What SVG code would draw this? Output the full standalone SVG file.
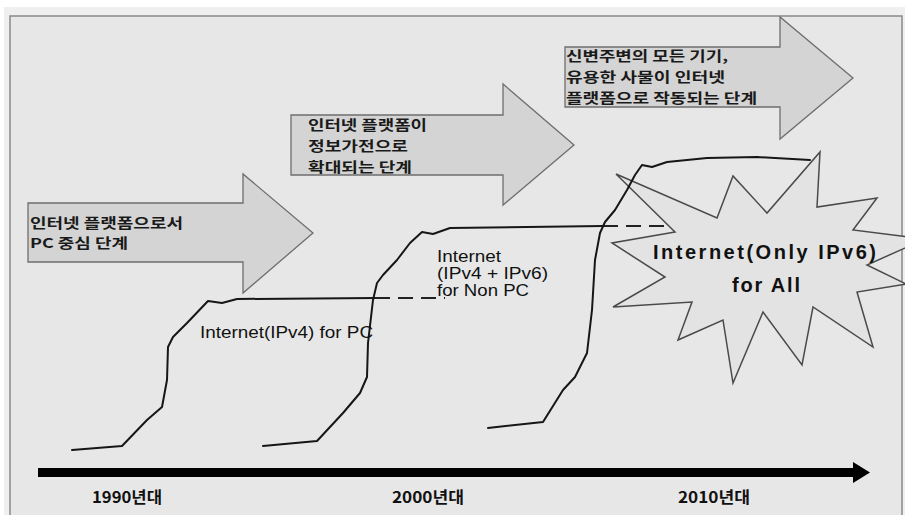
<svg xmlns="http://www.w3.org/2000/svg" width="905" height="515" viewBox="0 0 905 515">
<style>
.kr{font-family:"Noto Sans CJK KR","Noto Sans",sans-serif;font-size:13.5px;font-weight:bold;fill:#1a1a1a;}
.yr{font-family:"Noto Sans CJK KR","Noto Sans",sans-serif;font-size:16px;font-weight:bold;fill:#111;}
.en{font-family:"Liberation Sans",Arial,sans-serif;font-size:16px;fill:#111;}
.burst{font-family:"Liberation Sans",Arial,sans-serif;font-size:20px;font-weight:bold;fill:#111;}
.arrow{fill:#d4d4d4;stroke:#6e6e6e;stroke-width:1.3;}
.curve{fill:none;stroke:#161616;stroke-width:2;stroke-linejoin:round;stroke-linecap:round;}
.dash{fill:none;stroke:#222;stroke-width:2;stroke-dasharray:15 8;}
</style>
<defs>
<clipPath id="c2"><rect x="291" y="115" width="215" height="60"/></clipPath>
<clipPath id="c3"><rect x="565" y="47" width="218" height="60"/></clipPath>
</defs>
<rect x="0" y="0" width="905" height="515" fill="#ffffff"/>
<rect x="4" y="7" width="901" height="508" fill="#efefef"/>
<rect x="10" y="16" width="892" height="510" fill="#e7e7e7" stroke="#8a8a8a" stroke-width="1.5"/>

<g id="stage1">
<polygon class="arrow" points="28,203 243,203 243,174 313,233 243,293 243,262 28,262"/>
<text class="kr" x="30" y="228" textLength="153" lengthAdjust="spacingAndGlyphs">인터넷 플랫폼으로서</text>
<text class="kr" x="30" y="248" textLength="98" lengthAdjust="spacingAndGlyphs">PC 중심 단계</text>
</g>

<g id="stage2">
<polygon class="arrow" points="291,115 503,115 503,84 574,145 503,205 503,175 291,175"/>
<g clip-path="url(#c2)">
<text class="kr" x="308" y="130" textLength="119" lengthAdjust="spacingAndGlyphs">인터넷 플랫폼이</text>
</g>
<text class="kr" x="308" y="151" textLength="100" lengthAdjust="spacingAndGlyphs">정보가전으로</text>
<text class="kr" x="308" y="172" textLength="104" lengthAdjust="spacingAndGlyphs">확대되는 단계</text>
</g>

<g id="stage3">
<polygon class="arrow" points="565,47 780,47 780,17 853,78 780,139 780,107 565,107"/>
<g clip-path="url(#c3)">
<text class="kr" x="566" y="61" textLength="162" lengthAdjust="spacingAndGlyphs">신변주변의 모든 기기,</text>
</g>
<text class="kr" x="566" y="82" textLength="159" lengthAdjust="spacingAndGlyphs">유용한 사물이 인터넷</text>
<text class="kr" x="566" y="103" textLength="191" lengthAdjust="spacingAndGlyphs">플랫폼으로 작동되는 단계</text>
</g>

<g id="ipv6-burst">
<polygon fill="#e3e3e3" stroke="#4a4a4a" stroke-width="1.5" stroke-linejoin="miter" points="616,174 717,218 733,176 767,213 820,152 817,207 877,198 853,230 925,239 867,265 906,284 857,292 873,347 813,307 802,365 763,312 733,383 723,320 678,340 692,302 613,307 665,277 612,243 675,232"/>
<text class="burst" x="653" y="259" textLength="223" lengthAdjust="spacing">Internet(Only IPv6)</text>
<text class="burst" x="732" y="292" textLength="68" lengthAdjust="spacing">for All</text>
</g>

<g id="connectors">
<path class="curve" d="M72,450 L122,446 L147,420 L162,407 L167,380 L168,347 L173,337 L187,323 L208,301 L222,303 L237,299 L375,298"/>
<path class="dash" d="M375,298 L445,298"/>
<path class="curve" d="M263,446 L317,441 L343,413 L360,393 L367,377 L368,343 L373,300 L377,283 L383,275 L397,260 L410,243 L422,232 L433,234 L450,228 L603,226"/>
<path class="dash" d="M603,226 L664,226"/>
<path class="curve" d="M488,428 L543,422 L563,390 L575,377 L587,353 L592,310 L595,260 L600,233 L605,222 L615,210 L627,190 L635,175 L642,165 L652,167 L667,162 L707,158 L757,157 L810,160"/>
</g>

<g id="ipv4-label">
<text class="en" x="200" y="338" textLength="173" lengthAdjust="spacingAndGlyphs">Internet(IPv4) for PC</text>
</g>
<g id="dual-label">
<text class="en" x="437" y="262" textLength="64" lengthAdjust="spacingAndGlyphs">Internet</text>
<text class="en" x="437" y="279" textLength="111" lengthAdjust="spacingAndGlyphs">(IPv4 + IPv6)</text>
<text class="en" x="437" y="296" textLength="92" lengthAdjust="spacingAndGlyphs">for Non PC</text>
</g>

<g id="timeline">
<rect x="38" y="468" width="818" height="9" fill="#000"/>
<polygon points="853,462 870,472.5 853,483" fill="#000"/>
<text class="yr" x="92" y="503" textLength="70" lengthAdjust="spacingAndGlyphs">1990년대</text>
<text class="yr" x="392" y="503" textLength="72" lengthAdjust="spacingAndGlyphs">2000년대</text>
<text class="yr" x="678" y="503" textLength="72" lengthAdjust="spacingAndGlyphs">2010년대</text>
</g>
</svg>
